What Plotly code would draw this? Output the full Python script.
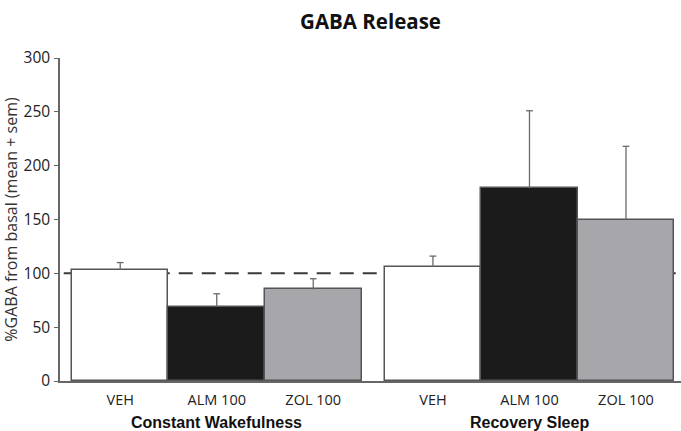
import plotly.graph_objects as go

# Treatment labels and the two recording conditions
treatments = ["VEH", "ALM 100", "ZOL 100"]
conditions = ["Constant Wakefulness", "Recovery Sleep"]

# %GABA from basal (mean) and SEM, per condition
means_wake = [103, 69, 85]
sems_wake = [7, 12, 10]
means_sleep = [106, 179, 150]
sems_sleep = [10, 72, 68]

basal_level = 100
y_ticks = [0, 50, 100, 150, 200, 250, 300]

fill_colors = ["#ffffff", "#1b1b1b", "#a7a7ab"]
edge_color = "#555555"
err_color = "#6a6a6a"
group_offset = 3.24
cap_half = 0.035

fig = go.Figure()

x_pos, tick_text = [], []
for g, (means, sems) in enumerate([(means_wake, sems_wake), (means_sleep, sems_sleep)]):
    xs = [g * group_offset + i + 0.5 for i in range(len(treatments))]
    x_pos += xs
    tick_text += treatments
    fig.add_trace(go.Bar(
        x=xs, y=means, width=1.0,
        marker=dict(color=fill_colors, line=dict(color=edge_color, width=1.5)),
        showlegend=False, hoverinfo="skip",
    ))
    # upper-only SEM whiskers with a small cap
    ex, ey = [], []
    for x, m, s in zip(xs, means, sems):
        ex += [x, x, None, x - cap_half, x + cap_half, None]
        ey += [m, m + s, None, m + s, m + s, None]
    fig.add_trace(go.Scatter(x=ex, y=ey, mode="lines",
                             line=dict(color=err_color, width=1.3),
                             showlegend=False, hoverinfo="skip"))

# basal reference line at 100 %
fig.add_shape(type="line", xref="paper", x0=0.006, x1=1, yref="y",
              y0=basal_level, y1=basal_level, layer="below",
              line=dict(color="#3a3a3a", width=2, dash="14px,9px"))

# condition labels below the treatment ticks
for g, name in enumerate(conditions):
    fig.add_annotation(x=g * group_offset + 1.5, xref="x", y=-0.13, yref="paper",
                       text=f"<b>{name}</b>", showarrow=False,
                       font=dict(family="Liberation Sans, Arial", size=16, color="#111111"),
                       xanchor="center", yanchor="middle")

fig.update_layout(
    width=681, height=431,
    margin=dict(l=60, r=0, t=58, b=50),
    paper_bgcolor="white", plot_bgcolor="white",
    bargap=0,
    title=dict(text="<b>GABA Release</b>", x=0.5, xref="paper", xanchor="center",
               y=0.949, yref="container", yanchor="middle",
               font=dict(family="Open Sans", size=20.5, color="#111111")),
    xaxis=dict(range=[-0.124, 6.31], tickvals=x_pos, ticktext=tick_text,
               showline=True, linecolor="#666666", linewidth=1.5, ticks="",
               ticklabelstandoff=5,
               showgrid=False, zeroline=False,
               tickfont=dict(family="Open Sans", size=14.5, color="#222222")),
    yaxis=dict(range=[0, 300], tickvals=y_ticks, showline=True, linecolor="#666666",
               linewidth=1.5, ticks="outside", ticklen=4, tickcolor="#666666",
               ticklabelstandoff=1,
               showgrid=False, zeroline=False,
               tickfont=dict(family="Open Sans", size=15.5, color="#222222"),
               title=dict(text="%GABA from basal (mean + sem)", standoff=4,
                          font=dict(family="Open Sans", size=16, color="#333333"))),
)

fig.write_html("out.html")
